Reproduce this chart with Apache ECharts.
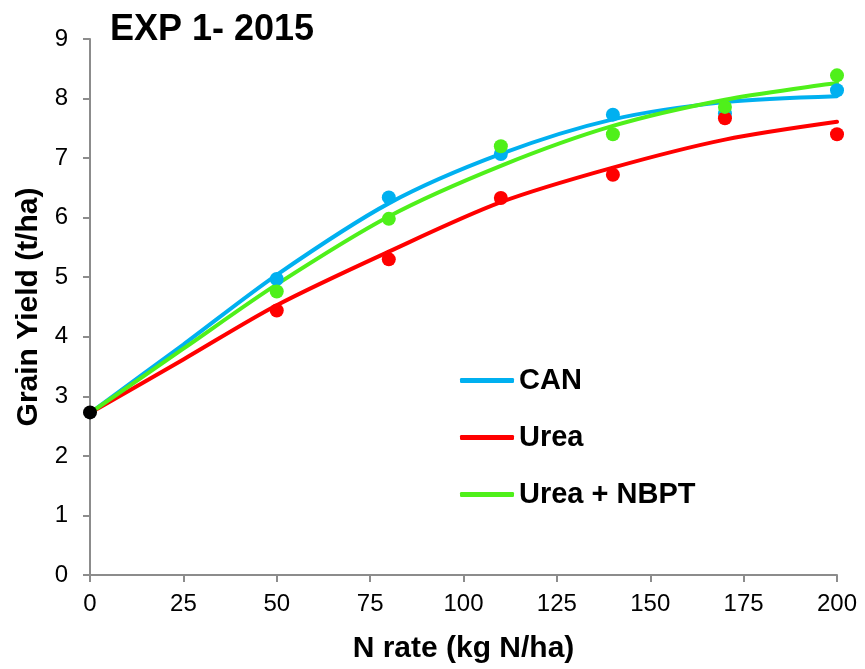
<!DOCTYPE html>
<html>
<head>
<meta charset="utf-8">
<script src="https://cdn.jsdelivr.net/npm/echarts@6/dist/echarts.min.js"></script>
<style>html,body{margin:0;padding:0;background:#fff;}#c{width:865px;height:669px;}</style>
</head>
<body>
<div id="c"></div>
<script>
// Observed points
const obsX = [50, 80, 110, 140, 170, 200];
const canObs = [4.97, 6.34, 7.07, 7.73, 7.75, 8.14];
const ureaObs = [4.44, 5.30, 6.33, 6.72, 7.67, 7.40];
const nbptObs = [4.76, 5.98, 7.20, 7.40, 7.86, 8.39];
const controlX = [0];
const controlObs = [2.73];
// Fitted response curves
const fitX = [0, 25, 50, 80, 110, 140, 170, 200];
const canFit = [2.72, 3.87, 5.04, 6.24, 7.07, 7.65, 7.94, 8.04];
const ureaFit = [2.72, 3.62, 4.53, 5.43, 6.26, 6.84, 7.31, 7.61];
const nbptFit = [2.72, 3.80, 4.88, 6.02, 6.87, 7.54, 7.98, 8.26];
const seriesNames = ['CAN', 'Urea', 'Urea + NBPT'];
const xTicks = [0, 25, 50, 75, 100, 125, 150, 175, 200];

const BLUE = '#00B0F0', RED = '#FF0000', GREEN = '#4FF01A';
const FONT = '"Liberation Sans", Arial, sans-serif';
const pair = (xs, ys) => xs.map((x, i) => [x, ys[i]]);

const chart = echarts.init(document.getElementById('c'));
const lineSeries = (name, xs, ys, color) => ({
  name, type: 'line', data: pair(xs, ys), smooth: 0.3, showSymbol: false,
  lineStyle: { color, width: 4, cap: 'round' }, itemStyle: { color }, z: 2
});
const dotSeries = (name, xs, ys, color) => ({
  name, type: 'scatter', data: pair(xs, ys), symbol: 'circle', symbolSize: 14,
  itemStyle: { color, opacity: 1 }, z: 3
});
chart.setOption({
  animation: false,
  title: {
    text: 'EXP 1- 2015', left: 105, top: 7,
    textStyle: { fontFamily: FONT, fontSize: 36, fontWeight: 'bold', color: '#000' }
  },
  grid: { left: 90, right: 28, top: 39, bottom: 93 },
  legend: {
    data: seriesNames.map(n => ({ name: n, icon: 'roundRect' })),
    orient: 'vertical', left: 455, top: 361,
    itemWidth: 54, itemHeight: 5, itemGap: 28,
    textStyle: { fontFamily: FONT, fontSize: 29, fontWeight: 'bold', color: '#000', lineHeight: 29 }
  },
  xAxis: {
    type: 'value', min: 0, max: 200, interval: 25,
    name: 'N rate (kg N/ha)', nameLocation: 'middle', nameGap: 59,
    nameTextStyle: { fontFamily: FONT, fontSize: 30, fontWeight: 'bold', color: '#000' },
    axisLine: { lineStyle: { color: '#8c8c8c', width: 2 } },
    axisTick: { show: true, length: 7, lineStyle: { color: '#8c8c8c', width: 2 } },
    axisLabel: { fontFamily: FONT, fontSize: 24, color: '#000', margin: 17,
      formatter: v => xTicks.includes(v) ? String(v) : '' },
    splitLine: { show: false }
  },
  yAxis: {
    type: 'value', min: 0, max: 9, interval: 1,
    name: 'Grain Yield (t/ha)', nameLocation: 'middle', nameGap: 45, nameRotate: 90,
    nameTextStyle: { fontFamily: FONT, fontSize: 30, fontWeight: 'bold', color: '#000' },
    axisLine: { show: true, lineStyle: { color: '#8c8c8c', width: 2 } },
    axisTick: { show: true, length: 7, lineStyle: { color: '#8c8c8c', width: 2 } },
    axisLabel: { fontFamily: FONT, fontSize: 24, color: '#000', margin: 22 },
    splitLine: { show: false }
  },
  series: [
    lineSeries('CAN', fitX, canFit, BLUE),
    lineSeries('Urea', fitX, ureaFit, RED),
    lineSeries('Urea + NBPT', fitX, nbptFit, GREEN),
    dotSeries('CAN obs', obsX, canObs, BLUE),
    dotSeries('Urea obs', obsX, ureaObs, RED),
    dotSeries('Urea + NBPT obs', obsX, nbptObs, GREEN),
    dotSeries('Control', controlX, controlObs, '#000')
  ]
});
</script>
</body>
</html>
